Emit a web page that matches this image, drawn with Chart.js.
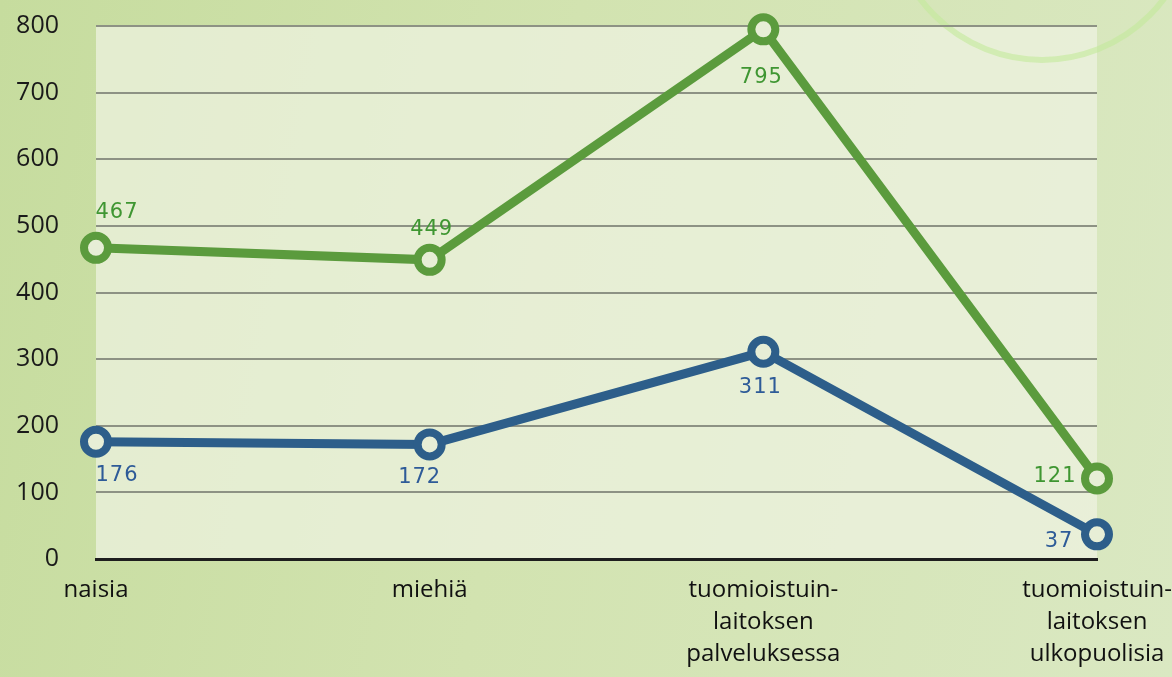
<!DOCTYPE html>
<html>
<head>
<meta charset="utf-8">
<script src="https://cdn.jsdelivr.net/npm/chart.js@4/dist/chart.umd.min.js"></script>
<style>
  html, body { margin: 0; padding: 0; }
  body {
    width: 1172px; height: 677px; overflow: hidden;
    background: linear-gradient(100deg, #c6dc9e 0%, #d2e3b0 45%, #dae8c2 100%);
  }
  #wrap { position: relative; width: 1172px; height: 677px; }
</style>
</head>
<body>
<div id="wrap"><canvas id="lineChart"></canvas></div>
<script>
    // categories and values
    const categories = [
        'naisia',
        'miehiä',
        ['tuomioistuin-', 'laitoksen', 'palveluksessa'],
        ['tuomioistuin-', 'laitoksen', 'ulkopuolisia']
    ];
    const greenValues = [467, 449, 795, 121];
    const blueValues = [176, 172, 311, 37];
    const yTicks = [0, 100, 200, 300, 400, 500, 600, 700, 800];

    // where each value label sits relative to its point (dx, dy in px)
    const greenLabelPos = [[21, -35], [2, -30], [-2, 48], [-42, -2]];
    const blueLabelPos = [[21, 34], [-10, 33], [-3, 36], [-38, 7]];

    const GREEN = '#5b9b3d';
    const BLUE = '#2d5e8a';
    const PANEL = '#e7eed6';

    const panelPlugin = {
        id: 'panel',
        beforeDraw(chart) {
            const { ctx, chartArea: a } = chart;
            ctx.save();
            ctx.fillStyle = 'rgba(238, 243, 226, 0.72)';
            ctx.fillRect(a.left, a.top, a.right - a.left, a.bottom - a.top);
            // decorative ring top right
            ctx.beginPath();
            ctx.arc(1042, -92, 152, 0, Math.PI * 2);
            ctx.strokeStyle = 'rgba(195, 234, 155, 0.6)';
            ctx.lineWidth = 6;
            ctx.stroke();
            ctx.restore();
        }
    };

    const valueLabels = {
        id: 'valueLabels',
        afterDatasetsDraw(chart) {
            const ctx = chart.ctx;
            const sets = [
                { idx: 0, pos: greenLabelPos, color: '#3f9632' },
                { idx: 1, pos: blueLabelPos, color: '#2e5b98' }
            ];
            ctx.save();
            ctx.font = '21px "DejaVu Sans"';
            ctx.textAlign = 'center';
            ctx.textBaseline = 'middle';
            if ('letterSpacing' in ctx) ctx.letterSpacing = '1px';
            sets.forEach(s => {
                const meta = chart.getDatasetMeta(s.idx);
                const data = chart.data.datasets[s.idx].data;
                meta.data.forEach((pt, i) => {
                    ctx.fillStyle = s.color;
                    ctx.fillText(String(data[i]), pt.x + s.pos[i][0], pt.y + s.pos[i][1]);
                });
            });
            ctx.restore();
        }
    };

    const ctx = document.getElementById('lineChart').getContext('2d');

    const lineChart = new Chart(ctx, {
        type: 'line',
        data: {
            labels: categories,
            datasets: [
                {
                    label: 'green',
                    data: greenValues,
                    borderColor: GREEN,
                    borderWidth: 9,
                    pointRadius: 12,
                    pointBorderWidth: 8,
                    pointBackgroundColor: PANEL,
                    pointBorderColor: GREEN,
                    tension: 0
                },
                {
                    label: 'blue',
                    data: blueValues,
                    borderColor: BLUE,
                    borderWidth: 9,
                    pointRadius: 12,
                    pointBorderWidth: 8,
                    pointBackgroundColor: PANEL,
                    pointBorderColor: BLUE,
                    tension: 0
                }
            ]
        },
        options: {
            responsive: true,
            maintainAspectRatio: false,
            animation: false,
            clip: false,
            layout: {
                padding: { top: 26, right: 75, left: 0, bottom: 0 }
            },
            plugins: {
                legend: { display: false },
                tooltip: { enabled: false }
            },
            scales: {
                x: {
                    offset: false,
                    grid: { display: false, drawTicks: false },
                    border: { display: true, color: '#1e1e1e', width: 3 },
                    ticks: {
                        color: '#111',
                        font: { family: '"Open Sans"', size: 24, lineHeight: 1.33 },
                        padding: 15,
                        maxRotation: 0,
                        autoSkip: false
                    },
                    afterFit(scale) {
                        scale.height = 118;
                        scale.paddingLeft = 0;
                        scale.paddingRight = 0;
                    }
                },
                y: {
                    min: 0,
                    max: 800,
                    afterBuildTicks(scale) {
                        scale.ticks = yTicks.map(v => ({ value: v }));
                    },
                    grid: {
                        color: ctx => ctx.tick && ctx.tick.value === 0 ? 'rgba(0,0,0,0)' : '#8d9284',
                        lineWidth: 2,
                        drawTicks: false
                    },
                    border: { display: false },
                    ticks: {
                        color: '#1a1a1a',
                        font: { family: '"Open Sans"', size: 25 },
                        padding: 37
                    },
                    afterFit(scale) {
                        scale.width = 96;
                        scale.paddingTop = 0;
                        scale.paddingBottom = 0;
                    }
                }
            }
        },
        plugins: [panelPlugin, valueLabels]
    });
</script>
</body>
</html>
